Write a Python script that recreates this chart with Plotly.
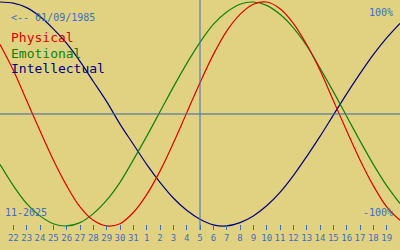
import plotly.graph_objects as go

# day labels (Nov 22 .. Dec 19)
tick_labels = ["22","23","24","25","26","27","28","29","30","31",
               "1","2","3","4","5","6","7","8","9","10",
               "11","12","13","14","15","16","17","18","19"]
# sample positions: day index -1 .. 29
days = list(range(-1, 30))
physical = [0.62, 0.39, 0.12, -0.15, -0.41, -0.64, -0.83, -0.95, -1.00, -0.98,
            -0.88, -0.72, -0.51, -0.26, 0.01, 0.28, 0.53, 0.74, 0.89, 0.98,
            1.00, 0.94, 0.81, 0.62, 0.39, 0.12, -0.15, -0.41, -0.64, -0.83, -0.95]
emotional = [-0.45, -0.64, -0.80, -0.91, -0.98, -1.00, -0.97, -0.89, -0.77, -0.61,
             -0.41, -0.20, 0.02, 0.24, 0.45, 0.64, 0.80, 0.91, 0.98, 1.00,
             0.97, 0.89, 0.77, 0.61, 0.41, 0.20, -0.02, -0.24, -0.45, -0.64, -0.80]
intellectual = [1.00, 0.99, 0.95, 0.87, 0.76, 0.63, 0.47, 0.29, 0.11, -0.09,
                -0.27, -0.45, -0.61, -0.75, -0.86, -0.94, -0.99, -1.00, -0.97, -0.91,
                -0.82, -0.70, -0.55, -0.38, -0.20, -0.01, 0.18, 0.36, 0.53, 0.68, 0.81]
today_index = 14
birth_text = "<-- 01/09/1985"
month_text = "11-2025"

BG = "#e1d282"
BLUE = "#3a6ec4"
FONT = "DejaVu Sans Mono"
RED = "#e00000"
GREEN = "#108010"
NAVY = "#000080"

fig = go.Figure()
for vals, col in [(intellectual, NAVY), (emotional, GREEN), (physical, RED)]:
    fig.add_trace(go.Scatter(x=days, y=vals, mode="lines",
                             line=dict(color=col, width=1.2, shape="spline", smoothing=1.0),
                             hoverinfo="skip", showlegend=False))

fig.add_shape(type="line", xref="paper", x0=0, x1=1, yref="y", y0=0, y1=0,
              line=dict(color="#3a66a8", width=1))
fig.add_shape(type="line", xref="x", x0=today_index, x1=today_index,
              yref="paper", y0=0, y1=1, line=dict(color=BLUE, width=1))

H = 230.0
def py(ypix):
    return 1 - ypix / H

anns = [
    (birth_text, 10, 17, "left", BLUE, 10),
    ("100%", 394, 12, "right", BLUE, 10),
    ("-100%", 394, 212, "right", BLUE, 10),
    (month_text, 4, 212, "left", BLUE, 10),
    ("Physical", 10, 38, "left", RED, 13),
    ("Emotional", 10, 53, "left", GREEN, 13),
    ("Intellectual", 10, 68, "left", NAVY, 13),
]
for txt, xp, ypx, anchor, col, size in anns:
    fig.add_annotation(text=txt, xref="paper", yref="paper", x=xp / 400, y=py(ypx),
                       xanchor=anchor, yanchor="middle", showarrow=False, borderpad=0,
                       font=dict(family=FONT, size=size, color=col))

fig.update_layout(
    width=400, height=250, margin=dict(l=0, r=0, t=0, b=20),
    paper_bgcolor=BG, plot_bgcolor=BG,
    xaxis=dict(range=[-1, 29], tickvals=list(range(len(tick_labels))), ticktext=tick_labels,
               ticks="inside", ticklen=5, tickwidth=1, tickcolor=BLUE,
               showgrid=False, zeroline=False, showline=False,
               tickfont=dict(family=FONT, size=9, color=BLUE), ticklabelstandoff=1,
               fixedrange=True),
    yaxis=dict(range=[-1.036, 1.018], showticklabels=False, showgrid=False,
               zeroline=False, showline=False, ticks="", fixedrange=True),
)
fig.write_html("out.html", config={"displayModeBar": False})
